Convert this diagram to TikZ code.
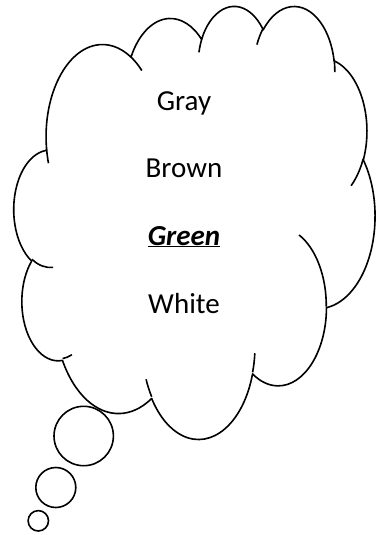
\documentclass[tikz,border=0pt]{standalone}
\usepackage{fontspec}
\setmainfont{Carlito}
\usetikzlibrary{calc}

\begin{document}
\begin{tikzpicture}[x=1pt, y=-1pt,
    linie/.style={line width=1.6pt, line join=round},
    wort/.style={anchor=base, font=\fontsize{29}{35}\selectfont},
    declare function={pw(\a,\b,\t)=atan2(\a*sin(\t),\b*cos(\t));
                      dw(\a,\b,\t,\s)=pw(\a,\b,\t+\s)-pw(\a,\b,\t);},
    bogen/.style n args={4}{insert path={arc[x radius=#1/4, y radius=#2/4,
        start angle={pw(#1,#2,#3)},
        delta angle={dw(#1,#2,#3,#4)+360*round((#4-dw(#1,#2,#3,#4))/360)}]}}
  ]
    % Rahmen des Bildes
    \useasboundingbox (0,0) rectangle (377,535);

    % Massstab der Wolke
    \pgfmathsetmacro{\wx}{361/10800}
    \pgfmathsetmacro{\wy}{433/10800}

    \begin{scope}[shift={(14,5)}, x=\wx pt, y=-\wy pt]
    % Zeichne den Umriss der Wolke
    \draw[linie] (975,3592.5)
        [bogen={6753}{9190}{-190.4875}{123.7805}]
        [bogen={5333}{7267}{-144.1024}{89.9452}]
        [bogen={4365}{5945}{-145.8079}{99.7230}]
        [bogen={4857}{6595}{-130.9861}{117.2417}]
        [bogen={5333}{7273}{-78.7089}{109.0269}]
        [bogen={6775}{9220}{-46.2673}{130.2690}]
        [bogen={5785}{7867}{0.6250}{114.0333}]
        [bogen={6752}{9215}{22.4516}{115.1726}]
        [bogen={7720}{10543}{66.2426}{75.7110}]
        [bogen={4360}{5918}{-274.9421}{146.7356}]
        [bogen={4345}{5945}{-246.8285}{152.5189}] -- cycle;

    % Zeichne die inneren Boegen
    \draw[linie] (1173.25,6544.25) [bogen={4345}{5945}{86.7420}{26.4295}];
    \draw[linie] (1732,8724.75) [bogen={4360}{5918}{73.6105}{11.4475}];
    \draw[linie] (4119.5,9772.5) [bogen={6752}{9215}{137.6242}{14.0811}];
    \draw[linie] (7206.75,8687.75) [bogen={6752}{9215}{6.4533}{15.9984}];
    \draw[linie] (8532.25,5738.5) [bogen={5785}{7867}{-70.2924}{70.9174}];
    \draw[linie] (10449.5,3838.5) [bogen={5333}{7273}{30.3180}{27.7515}];
    \draw[linie] (9581,1356.5) [bogen={4857}{6595}{-13.7443}{14.8589}];
    \draw[linie] (7269.5,988) [bogen={4857}{6595}{-149.1815}{18.1954}];
    \draw[linie] (5535.25,1180) [bogen={4365}{5945}{-163.4943}{17.6864}];
    \draw[linie] (3500,1298) [bogen={6753}{9190}{-66.7070}{12.3194}];
    \draw[linie] (1031.75,3947.25) [bogen={6753}{9190}{157.6544}{11.8582}];
    \end{scope}

    % Zeichne die Gedankenblasen
    \draw[linie] (83.7,436) circle[radius=29.7];
    \draw[linie] (55.8,487.5) circle[radius=20];
    \draw[linie] (38.3,520.8) circle[radius=10.2];

    % Beschriftung
    \node[wort] (gray)  at (184,110) {Gray};
    \node[wort] (brown) at (184,177) {Brown};
    \node[wort] (green) at (184,245) {\underline{\textbf{\textit{Green}}}};
    \node[wort] (white) at (184,313) {White};
\end{tikzpicture}
\end{document}
